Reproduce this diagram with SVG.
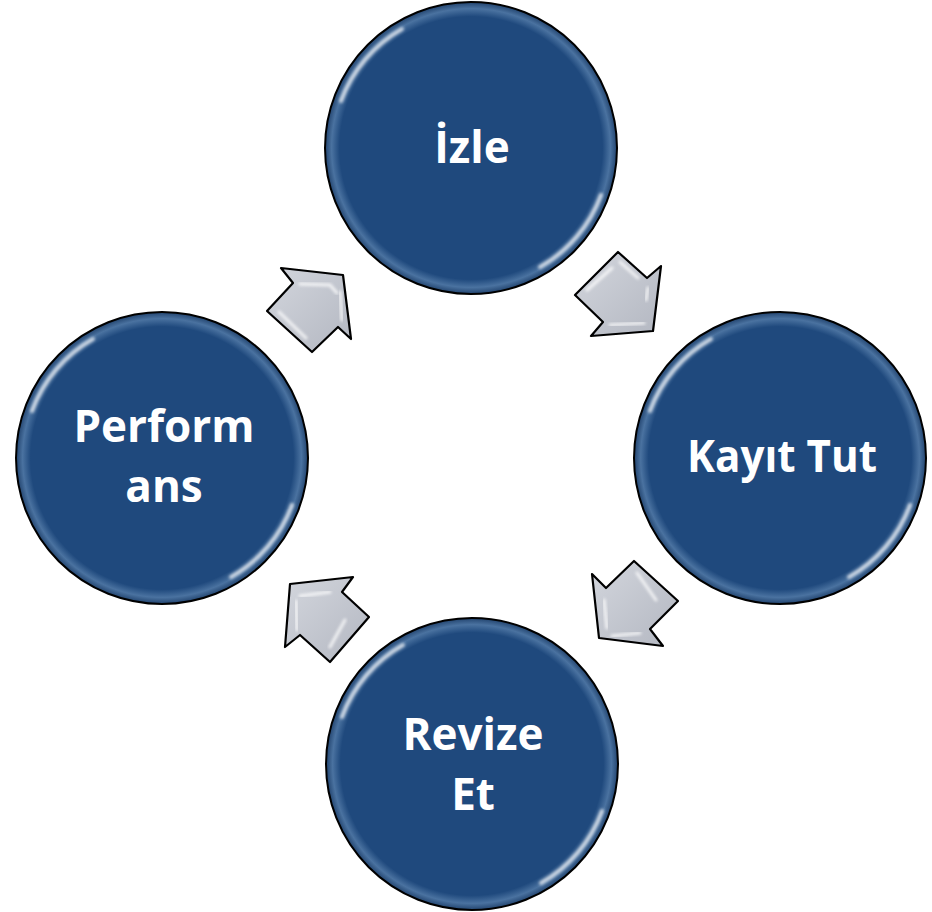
<svg xmlns="http://www.w3.org/2000/svg" width="932" height="912" viewBox="0 0 932 912">
  <defs>
    <radialGradient id="ballFill" cx="0.5" cy="0.5" r="0.5">
      <stop offset="0" stop-color="#1f497d"/>
      <stop offset="0.9" stop-color="#1f497d"/>
      <stop offset="0.955" stop-color="#4a72a0"/>
      <stop offset="1" stop-color="#22446f"/>
    </radialGradient>
    <linearGradient id="arrowFill" x1="0" y1="0" x2="1" y2="1">
      <stop offset="0" stop-color="#d3d6dd"/>
      <stop offset="1" stop-color="#b3b7c1"/>
    </linearGradient>
    <filter id="soft" x="-20%" y="-20%" width="140%" height="140%">
      <feGaussianBlur stdDeviation="1.4"/>
    </filter>
  </defs>
  <style>
    .ball { fill: url(#ballFill); stroke: #000; stroke-width: 2; }
    .glint { fill: none; stroke: #ffffff; stroke-width: 4; stroke-linecap: round; opacity: 0.75; filter: url(#soft); }
    .label { font-family: "Open Sans", "Liberation Sans", sans-serif; font-weight: bold; font-size: 44px; fill: #ffffff; text-anchor: middle; }
    .arrow { fill: url(#arrowFill); stroke: #000; stroke-width: 2.2; stroke-linejoin: round; }
    .hl { fill: none; stroke: #ffffff; stroke-width: 3; stroke-linecap: round; opacity: 0.8; filter: url(#soft); }
  </style>
  <rect width="932" height="912" fill="#ffffff"/>

  <g id="connectors">
    <g id="arrow-performans-izle">
      <polygon class="arrow" points="343,275 281,268 293,283 267,311 312,352 338,327 351,339"/>
      <polyline class="hl" points="300,284 330,285 337,293"/>
      <polyline class="hl" points="279,312 306,338"/>
      <polyline class="hl" points="340,292 342,320"/>
    </g>
    <g id="arrow-izle-kayit">
      <polygon class="arrow" points="653,331 661,266 647,278 618,252 575,295 603,322 591,336"/>
      <polyline class="hl" points="620,262 638,278"/>
      <polyline class="hl" points="587,290 612,268"/>
      <polyline class="hl" points="648,288 646,300"/>
      <polyline class="hl" points="610,325 644,323"/>
    </g>
    <g id="arrow-kayit-revize">
      <polygon class="arrow" points="599,638 592,574 606,588 634,561 678,601 650,629 663,646"/>
      <polyline class="hl" points="637,573 656,600"/>
      <polyline class="hl" points="604,600 607,628"/>
      <polyline class="hl" points="612,636 640,633"/>
    </g>
    <g id="arrow-revize-performans">
      <polygon class="arrow" points="290,584 353,577 342,592 369,617 330,662 300,635 285,647"/>
      <polyline class="hl" points="300,596 330,592"/>
      <polyline class="hl" points="296,601 297,630"/>
      <polyline class="hl" points="345,620 330,647"/>
    </g>
  </g>

  <g id="node-izle" transform="translate(471,148)">
    <circle class="ball" r="146"/>
    <path class="glint" d="M -130,-47 A 138,138 0 0 1 -69,-119"/>
    <path class="glint" d="M 130,47 A 138,138 0 0 1 69,119"/>
    <text class="label" x="1" y="15">İzle</text>
  </g>

  <g id="node-kayit" transform="translate(780,458)">
    <circle class="ball" r="146"/>
    <path class="glint" d="M -130,-47 A 138,138 0 0 1 -69,-119"/>
    <path class="glint" d="M 130,47 A 138,138 0 0 1 69,119"/>
    <text class="label" x="2" y="14" textLength="190" lengthAdjust="spacingAndGlyphs">Kayıt Tut</text>
  </g>

  <g id="node-revize" transform="translate(472,764)">
    <circle class="ball" r="146"/>
    <path class="glint" d="M -130,-47 A 138,138 0 0 1 -69,-119"/>
    <path class="glint" d="M 130,47 A 138,138 0 0 1 69,119"/>
    <text class="label" x="1" y="-14">Revize</text>
    <text class="label" x="1" y="46">Et</text>
  </g>

  <g id="node-performans" transform="translate(162,458)">
    <circle class="ball" r="146"/>
    <path class="glint" d="M -130,-47 A 138,138 0 0 1 -69,-119"/>
    <path class="glint" d="M 130,47 A 138,138 0 0 1 69,119"/>
    <text class="label" x="2" y="-16">Perform</text>
    <text class="label" x="2" y="44">ans</text>
  </g>
</svg>
